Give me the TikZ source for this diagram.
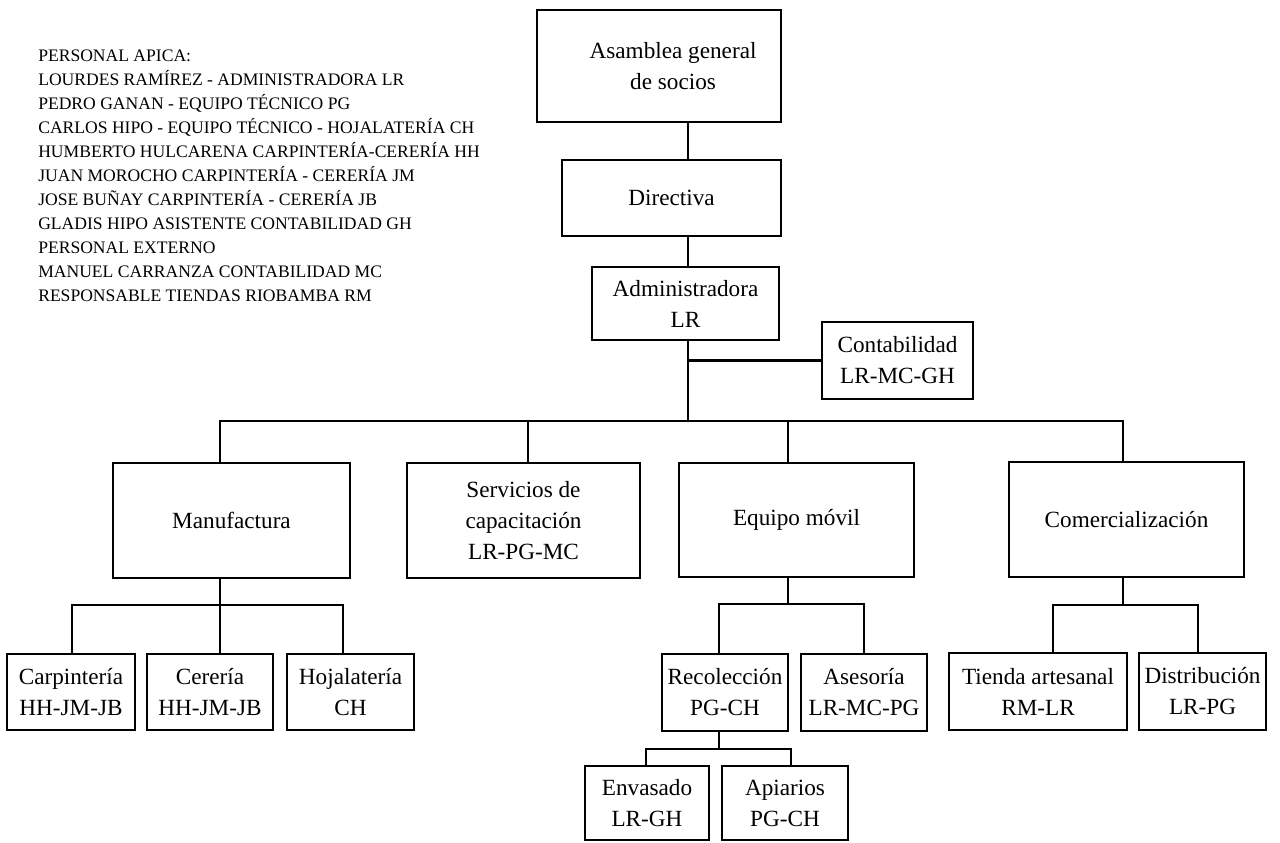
\documentclass[tikz,border=0pt]{standalone}
\usepackage{fontspec}
\setmainfont{Liberation Serif}
\begin{document}
\begin{tikzpicture}[x=0.025cm, y=-0.025cm,
  box/.style={draw, line width=1.5pt, align=center, inner sep=0pt, font=\fontsize{16.5}{22}\selectfont},
  wire/.style={line width=1.5pt, line cap=rect}]
\useasboundingbox (0,0) rectangle (1280,842);
\def\OrgBox#1#2#3#4#5#6{
\node[box, minimum width={(#4-#2)*0.025cm}, minimum height={(#5-#3)*0.025cm}] (#1) at ({(#2+#4)/2},{(#3+#5)/2}) {#6};
}

\node[anchor=north west, align=left, inner sep=0pt, font=\fontsize{12.5}{17.07}\selectfont] (personal) at (38,50)
{PERSONAL APICA:\\
LOURDES RAMÍREZ - ADMINISTRADORA LR\\
PEDRO GANAN - EQUIPO TÉCNICO PG\\
CARLOS HIPO - EQUIPO TÉCNICO - HOJALATERÍA CH\\
HUMBERTO HULCARENA CARPINTERÍA-CERERÍA HH\\
JUAN MOROCHO CARPINTERÍA - CERERÍA JM\\
JOSE BUÑAY CARPINTERÍA - CERERÍA JB\\
GLADIS HIPO ASISTENTE CONTABILIDAD GH\\
PERSONAL EXTERNO\\
MANUEL CARRANZA CONTABILIDAD MC\\
RESPONSABLE TIENDAS RIOBAMBA RM};

\coordinate (trunk) at (688,421);

% top of the chart
\OrgBox{asamblea}{537}{10}{781}{122}{}
\node[font=\fontsize{16.5}{22}\selectfont, align=center] (asamblea-t) at ([xshift=10pt]asamblea.center) {Asamblea general\\de socios};
\OrgBox{directiva}{562}{160}{781}{236}{Directiva}
\OrgBox{admin}{592}{267}{779}{340}{Administradora\\LR}
\OrgBox{contabilidad}{822}{322}{973}{399}{Contabilidad\\LR-MC-GH}

% areas
\OrgBox{manufactura}{113}{463}{350}{578}{Manufactura}
\OrgBox{servicios}{407}{463}{640}{578}{Servicios de\\capacitación\\LR-PG-MC}
\OrgBox{equipo}{679}{463}{914}{577}{Equipo móvil}
\OrgBox{comercial}{1009}{462}{1244}{577}{Comercialización}

% units
\OrgBox{carpinteria}{7}{654}{135}{730}{Carpintería\\HH-JM-JB}
\OrgBox{cereria}{147}{654}{273}{730}{Cerería\\HH-JM-JB}
\OrgBox{hojalateria}{287}{654}{414}{730}{Hojalatería\\CH}
\OrgBox{recoleccion}{662}{654}{788}{731}{Recolección\\PG-CH}
\OrgBox{asesoria}{801}{654}{927}{731}{Asesoría\\LR-MC-PG}
\OrgBox{tienda}{949}{653}{1127}{730}{Tienda artesanal\\RM-LR}
\OrgBox{distribucion}{1139}{653}{1266}{730}{Distribución\\LR-PG}
\OrgBox{envasado}{585}{766}{709}{840}{Envasado\\LR-GH}
\OrgBox{apiarios}{722}{766}{848}{840}{Apiarios\\PG-CH}

\draw[wire] (asamblea.south -| trunk) -- (directiva.north -| trunk);
\draw[wire] (directiva.south -| trunk) -- (admin.north -| trunk);
\draw[wire] (admin.south -| trunk) -- (trunk);
\draw[wire] (contabilidad.west) -- (contabilidad.west -| trunk);

\foreach \n/\x/\y in {manufactura/220/421, servicios/528/421, equipo/788/421, comercial/1123/421,
  carpinteria/72/605, cereria/220/605, hojalateria/343/605,
  recoleccion/719/604, asesoria/864/604, tienda/1053/605, distribucion/1198/605,
  envasado/646/749, apiarios/791/749}
{
  \coordinate (d-\n) at (\x,\y);
  \draw[wire] (d-\n) -- (d-\n |- \n.north);
}

\draw[wire] (d-manufactura) -- (d-comercial);
\draw[wire] (manufactura.south -| d-manufactura) -- (d-manufactura |- d-carpinteria);
\draw[wire] (d-carpinteria) -- (d-hojalateria);
\draw[wire] (equipo.south -| d-equipo) -- (d-equipo |- d-recoleccion);
\draw[wire] (d-recoleccion) -- (d-asesoria);
\draw[wire] (recoleccion.south -| d-recoleccion) -- (d-recoleccion |- d-envasado);
\draw[wire] (d-envasado) -- (d-apiarios);
\draw[wire] (comercial.south -| d-comercial) -- (d-comercial |- d-tienda);
\draw[wire] (d-tienda) -- (d-distribucion);
\end{tikzpicture}
\end{document}
